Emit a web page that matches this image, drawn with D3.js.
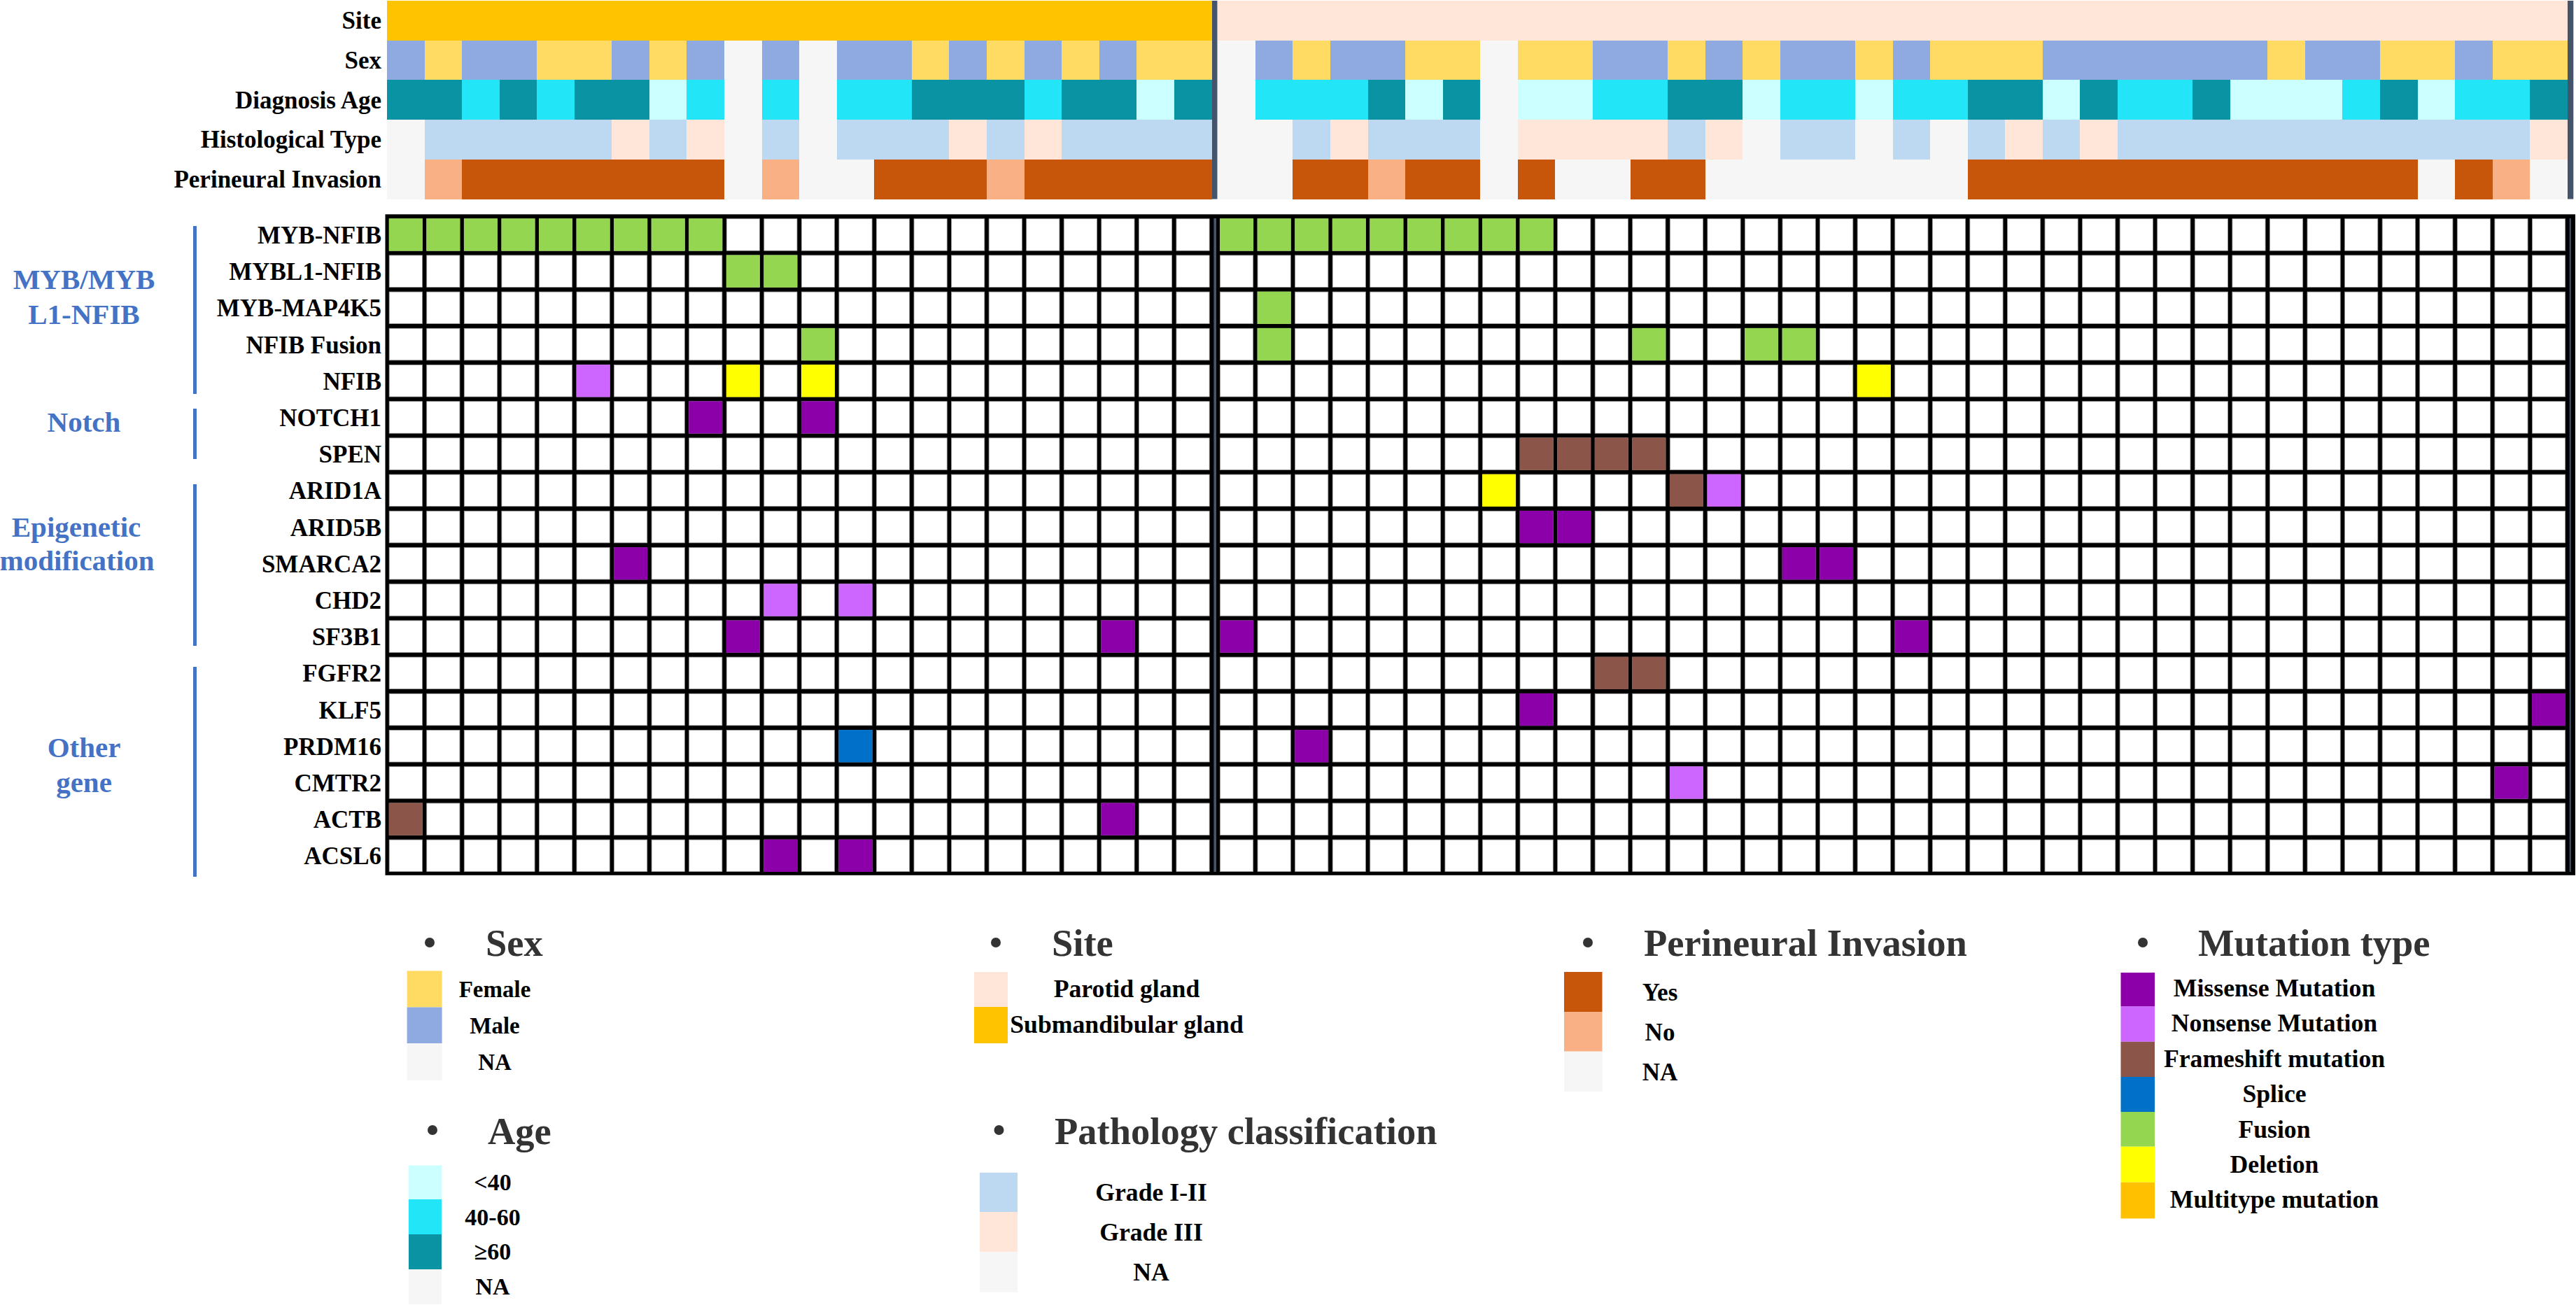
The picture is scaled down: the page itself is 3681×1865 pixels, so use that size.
<!DOCTYPE html>
<html><head><meta charset="utf-8">
<script src="https://d3js.org/d3.v7.min.js"></script>
<style>html,body{margin:0;padding:0;background:#fff}svg{display:block}text{font-family:"Liberation Serif","Times New Roman",serif;font-weight:bold}</style>
</head><body><div id="chart"></div>
<script>
const leftCount = 22, rightCount = 36;
const trackNames = ["Site","Sex","Diagnosis Age","Histological Type","Perineural Invasion"];
const genes = ["MYB-NFIB","MYBL1-NFIB","MYB-MAP4K5","NFIB Fusion","NFIB","NOTCH1","SPEN","ARID1A","ARID5B","SMARCA2","CHD2","SF3B1","FGFR2","KLF5","PRDM16","CMTR2","ACTB","ACSL6"];

const siteTrack = ["S","S","S","S","S","S","S","S","S","S","S","S","S","S","S","S","S","S","S","S","S","S",
 "P","P","P","P","P","P","P","P","P","P","P","P","P","P","P","P","P","P","P","P","P","P","P","P","P","P","P","P","P","P","P","P","P","P","P","P"];
const sexTrack = ["M","F","M","M","F","F","M","F","M","N","M","N","M","M","F","M","F","M","F","M","F","F",
 "N","M","F","M","M","F","F","N","F","F","M","M","F","M","F","M","M","F","M","F","F","F","M","M","M","M","M","M","F","M","M","F","F","M","F","F"];
const ageTrack = ["O","O","M","O","M","O","O","Y","M","N","M","N","M","M","O","O","O","M","O","O","Y","O",
 "N","M","M","M","O","Y","O","N","Y","Y","M","M","O","O","Y","M","M","Y","M","M","O","O","Y","O","M","M","O","Y","Y","Y","M","O","Y","M","M","O"];
const histTrack = ["N","G","G","G","G","G","T","G","T","N","G","N","G","G","G","T","G","T","G","G","G","G",
 "N","N","G","T","G","G","G","N","T","T","T","T","G","T","N","G","G","N","G","N","G","T","G","T","G","G","G","G","G","G","G","G","G","G","G","T"];
const pniTrack = ["N","L","Y","Y","Y","Y","Y","Y","Y","N","L","N","N","Y","Y","Y","L","Y","Y","Y","Y","Y",
 "N","N","Y","Y","L","Y","Y","N","Y","N","N","Y","Y","N","N","N","N","N","N","N","Y","Y","Y","Y","Y","Y","Y","Y","Y","Y","Y","Y","N","Y","L","N"];
const trackValues = [siteTrack, sexTrack, ageTrack, histTrack, pniTrack];

const siteColors = {S:"#FFC300",P:"#FFE6D9"};
const sexColors = {F:"#FFDB63",M:"#8FAAE0",N:"#F6F6F6"};
const ageColors = {Y:"#CCFFFF",M:"#22E6F8",O:"#0A93A2",N:"#F6F6F6"};
const histColors = {G:"#BDD9F2",T:"#FFE6D9",N:"#F6F6F6"};
const pniColors = {Y:"#C7550A",L:"#F9B084",N:"#F6F6F6"};
const trackColors = [siteColors, sexColors, ageColors, histColors, pniColors];
const mutationColors = {missense:"#8B00A8",nonsense:"#CC66FF",frameshift:"#8B5549",splice:"#0070C8",fusion:"#94D64F",deletion:"#FFFF00",multitype:"#FFC000"};

const fusionHits = [["MYB-NFIB",0],["MYB-NFIB",1],["MYB-NFIB",2],["MYB-NFIB",3],["MYB-NFIB",4],["MYB-NFIB",5],["MYB-NFIB",6],["MYB-NFIB",7],["MYB-NFIB",8],
 ["MYB-NFIB",22],["MYB-NFIB",23],["MYB-NFIB",24],["MYB-NFIB",25],["MYB-NFIB",26],["MYB-NFIB",27],["MYB-NFIB",28],["MYB-NFIB",29],["MYB-NFIB",30],
 ["MYBL1-NFIB",9],["MYBL1-NFIB",10],["MYB-MAP4K5",23],["NFIB Fusion",11],["NFIB Fusion",23],["NFIB Fusion",33],["NFIB Fusion",36],["NFIB Fusion",37]];
const deletionHits = [["NFIB",9],["NFIB",11],["NFIB",39],["ARID1A",29]];
const nonsenseHits = [["NFIB",5],["ARID1A",35],["CHD2",10],["CHD2",12],["CMTR2",34]];
const missenseHits = [["NOTCH1",8],["NOTCH1",11],["ARID5B",30],["ARID5B",31],["SMARCA2",6],["SMARCA2",37],["SMARCA2",38],
 ["SF3B1",9],["SF3B1",19],["SF3B1",22],["SF3B1",40],["KLF5",30],["KLF5",57],["PRDM16",24],["CMTR2",56],["ACTB",19],["ACSL6",10],["ACSL6",12]];
const frameshiftHits = [["SPEN",30],["SPEN",31],["SPEN",32],["SPEN",33],["ARID1A",34],["FGFR2",32],["FGFR2",33],["ACTB",0]];
const spliceHits = [["PRDM16",12]];
const hitGroups = [["fusion",fusionHits],["deletion",deletionHits],["nonsense",nonsenseHits],["missense",missenseHits],["frameshift",frameshiftHits],["splice",spliceHits]];

const geneGroups = [
 {lines:[["MYB/MYB",120,413],["L1-NFIB",120,463]],bar:[323,563]},
 {lines:[["Notch",120,617]],bar:[584,656]},
 {lines:[["Epigenetic",109,767],["modification",110,815]],bar:[692,923]},
 {lines:[["Other",120,1082],["gene",120,1132]],bar:[953,1253]}
];

const legends = [
 {title:"Sex",bx:614,by:1347,tx:694,ty:1366,sx:[581.6,631.6],cx:707,fs:33,items:[["Female",sexColors.F,1387.5,1439.5,1425],["Male",sexColors.M,1439.5,1491,1477],["NA",sexColors.N,1491,1544,1529]]},
 {title:"Site",bx:1423,by:1347,tx:1503,ty:1366,sx:[1392,1440],cx:1610,fs:35.7,items:[["Parotid gland",siteColors.P,1389,1439,1425],["Submandibular gland",siteColors.S,1439,1491,1475.5]]},
 {title:"Perineural Invasion",bx:2269,by:1347,tx:2349,ty:1366,sx:[2235,2289.5],cx:2372,fs:35,items:[["Yes",pniColors.Y,1389,1446,1430],["No",pniColors.L,1446,1502.7,1486.5],["NA",pniColors.N,1502.7,1560,1543.5]]},
 {title:"Mutation type",bx:3062,by:1347,tx:3141,ty:1366,sx:[3030.5,3079],cx:3250,fs:35.7,items:[["Missense Mutation",mutationColors.missense,1390,1438.5,1424],["Nonsense Mutation",mutationColors.nonsense,1438.5,1488.8,1474],["Frameshift mutation",mutationColors.frameshift,1488.8,1539,1524.7],["Splice",mutationColors.splice,1539,1589,1575],["Fusion",mutationColors.fusion,1589,1638.7,1625.5],["Deletion",mutationColors.deletion,1638.7,1689.7,1675.8],["Multitype mutation",mutationColors.multitype,1689.7,1741.4,1726]]},
 {title:"Age",bx:618,by:1615,tx:697,ty:1635,sx:[584,631],cx:704,fs:34,items:[["<40",ageColors.Y,1665.5,1714,1700.5],["40-60",ageColors.M,1714,1764,1750.5],["\u226560",ageColors.O,1764,1814,1800],["NA",ageColors.N,1814,1864,1849.5]]},
 {title:"Pathology classification",bx:1427.5,by:1615,tx:1507,ty:1635,sx:[1400,1454],cx:1645,fs:35.7,items:[["Grade I-II",histColors.G,1675.8,1732,1716],["Grade III",histColors.T,1732,1789,1772.5],["NA",histColors.N,1789,1846.6,1829.5]]}
];

const svg = d3.select("#chart").append("svg").attr("width",3681).attr("height",1865).attr("viewBox","0 0 3681 1865");
svg.append("rect").attr("width",3681).attr("height",1865).attr("fill","#fff");

const xL = d3.scaleBand().domain(d3.range(leftCount)).range([553,553+leftCount*53.56]);
const xR = d3.scaleBand().domain(d3.range(rightCount)).range([1740.3,1740.3+rightCount*53.57]);
const x = i => i<leftCount ? xL(i) : xR(i-leftCount);
const bw = xL.bandwidth();
const samples = d3.range(leftCount+rightCount);
const yT = d3.scaleBand().domain(trackNames).range([1,284.5]);
const yG = d3.scaleBand().domain(genes).range([309.35,309.35+genes.length*52.2]);
const inset = 2.8, cellW = 48, cellH = 46.3, edge = 0.8;

// annotation tracks
trackNames.forEach((name,t)=>{
  svg.append("g").attr("shape-rendering","crispEdges").selectAll("rect").data(samples).join("rect")
    .attr("x",i=>x(i)).attr("y",yT(name)).attr("width",bw+0.6).attr("height",yT.bandwidth())
    .attr("fill",i=>trackColors[t][trackValues[t][i]]);
});
const sepRects=[[1732,1739.5],[3669,3677.3]];
svg.append("g").selectAll("rect").data(sepRects).join("rect")
  .attr("x",d=>d[0]).attr("y",1).attr("width",d=>d[1]-d[0]).attr("height",283.5).attr("fill","#44546A");

// track labels
const axT = svg.append("g").attr("transform","translate(545,0)").call(d3.axisLeft(yT).tickSize(0).tickPadding(0));
axT.select(".domain").remove();
axT.selectAll("text").attr("dy","12px").attr("fill","#000").style("font-size","35px");

// grid
svg.append("rect").attr("x",550.5).attr("y",306.3).attr("width",3680-550.5).attr("height",1250.8-306.3).attr("fill","#000");
svg.append("g").selectAll("rect").data([[1734.4,1738],[3671.7,3673.8]]).join("rect")
  .attr("x",d=>d[0]).attr("y",312).attr("width",d=>d[1]-d[0]).attr("height",1246-312).attr("fill","#44546A");
const grid = svg.append("g");
genes.forEach(g=>{
  grid.append("g").selectAll("rect").data(samples).join("rect")
    .attr("x",i=>x(i)+inset+edge/2).attr("y",yG(g)+2.95+edge/2).attr("width",cellW-edge).attr("height",cellH-edge)
    .attr("fill","#fff").attr("stroke","#999").attr("stroke-width",edge);
});
hitGroups.forEach(([type,hits])=>{
  grid.append("g").selectAll("rect").data(hits).join("rect")
    .attr("x",d=>x(d[1])+inset).attr("y",d=>yG(d[0])+2.95).attr("width",cellW).attr("height",cellH)
    .attr("fill",mutationColors[type]);
});
const axG = svg.append("g").attr("transform","translate(545,0)").call(d3.axisLeft(yG).tickSize(0).tickPadding(0));
axG.select(".domain").remove();
axG.selectAll("text").attr("dy","12.5px").attr("fill","#000").style("font-size","35px");

// gene groups
geneGroups.forEach(g=>{
  svg.append("rect").attr("x",276).attr("y",g.bar[0]).attr("width",5).attr("height",g.bar[1]-g.bar[0]).attr("fill","#4472C4");
  g.lines.forEach(l=>{
    svg.append("text").text(l[0]).attr("x",l[1]).attr("y",l[2]).attr("text-anchor","middle").attr("fill","#4472C4").style("font-size","41px");
  });
});

// legends
legends.forEach(L=>{
  svg.append("ellipse").attr("cx",L.bx).attr("cy",L.by).attr("rx",7).attr("ry",7).attr("fill","#333");
  svg.append("text").text(L.title).attr("x",L.tx).attr("y",L.ty).attr("fill","#333").style("font-size","54.5px");
  L.items.forEach(it=>{
    svg.append("rect").attr("x",L.sx[0]).attr("y",it[2]).attr("width",L.sx[1]-L.sx[0]).attr("height",it[3]-it[2]).attr("fill",it[1]);
    svg.append("text").text(it[0]).attr("x",L.cx).attr("y",it[4]).attr("text-anchor","middle").attr("fill","#000").style("font-size",L.fs+"px");
  });
});
</script></body></html>
